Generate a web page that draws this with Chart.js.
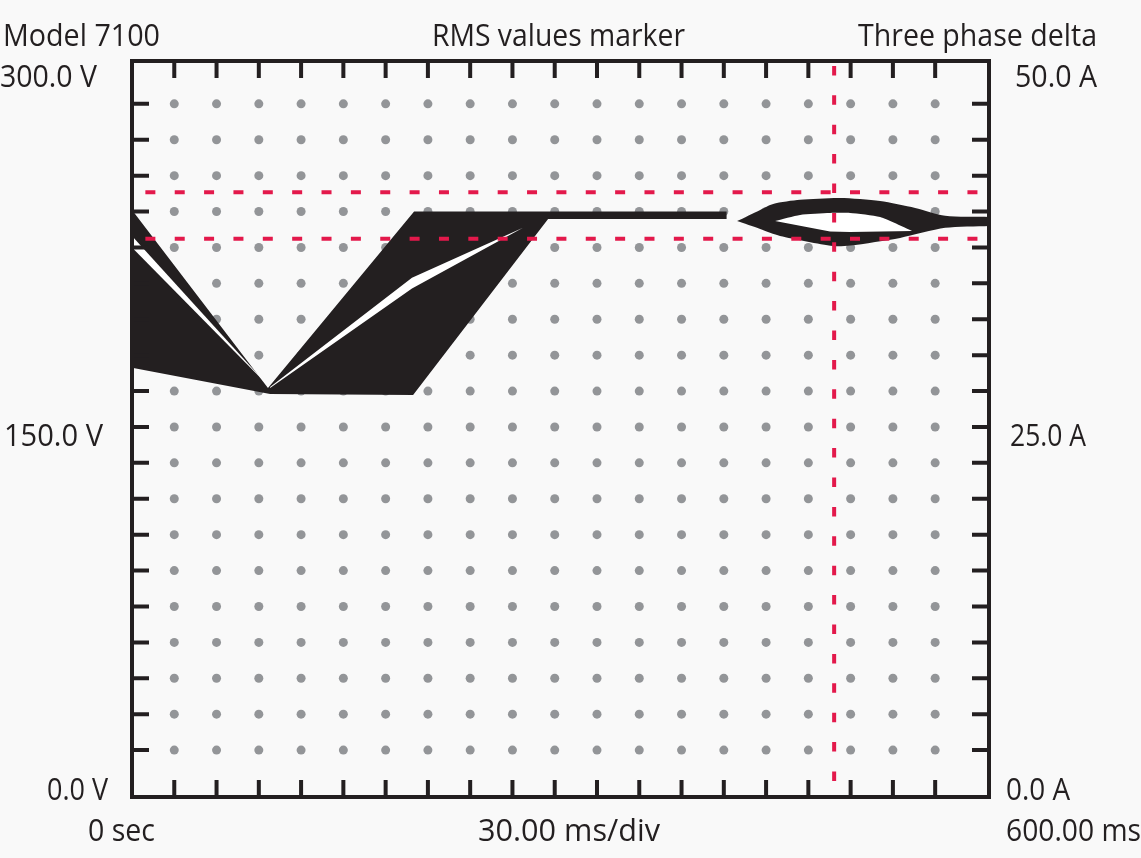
<!DOCTYPE html>
<html>
<head>
<meta charset="utf-8">
<title>Model 7100 - RMS values marker</title>
<script src="https://cdn.jsdelivr.net/npm/chart.js@4.4.1/dist/chart.umd.min.js"></script>
<style>
  html, body { margin: 0; padding: 0; background: #f9f9f9; }
  canvas { display: block; }
</style>
</head>
<body>
<canvas id="scope" width="1141" height="858"></canvas>
<script>
// time in ms, voltage in V

// three phase sag envelope
var envTopT = [0, 96.5, 200.2, 422.1];
var envTopV = [240.7, 166.3, 240.0, 240.0];
var envLowT = [0, 98.0, 199.5, 295.3, 422.1];
var envLowV = [174.7, 163.8, 163.4, 236.9, 236.9];

// gaps between the phases
var gapAT = [0, 96.0];
var gapATopV = [229.8, 167.6];
var gapALowV = [225.0, 167.6];
var gapBT = [98.0, 198.7, 277.5];
var gapBTopV = [166.7, 212.3, 233.2];
var gapBLowV = [166.3, 207.9, 233.2];

// recovery swing near the marker
var loopTopT = [429.4, 445.8, 455.0, 474.1, 502.5, 530.9, 555.8, 577.1, 608.2];
var loopTopV = [236.0, 240.7, 243.2, 244.9, 245.7, 244.4, 241.5, 238.2, 237.7];
var loopLowT = [429.4, 445.8, 459.9, 497.6, 509.6, 545.1, 577.1, 608.2];
var loopLowV = [236.0, 232.7, 229.8, 225.6, 225.8, 229.0, 233.2, 234.0];
var holeTopT = [456.4, 474.1, 495.4, 509.6, 530.9, 553.6];
var holeTopV = [236.1, 238.6, 239.4, 239.4, 237.7, 231.9];
var holeLowT = [456.4, 495.4, 509.6, 553.6];
var holeLowV = [236.1, 231.7, 231.5, 231.9];

// marker cursors
var markerV = [248.1, 228.6];
var markerT = 498.3;

// axis text
var titles = ['Model 7100', 'RMS values marker', 'Three phase delta'];
var voltLabels = ['300.0 V', '150.0 V', '0.0 V'];
var ampLabels = ['50.0 A', '25.0 A', '0.0 A'];
var timeLabels = ['0 sec', '30.00 ms/div', '600.00 ms'];

var INK = '#231f20';
var RED = '#e3194b';
var DOT = '#939598';
var GAP = '#ffffff';

function pts(t, v) {
  return t.map(function (x, i) { return { x: x, y: v[i] }; });
}

function edge(t, v, tension) {
  return { data: pts(t, v), borderWidth: 0, pointRadius: 0, fill: false, tension: tension || 0 };
}

function band(t, v, color, tension) {
  var d = edge(t, v, tension);
  d.fill = '-1';
  d.backgroundColor = color;
  return d;
}

// text: [string, left, baseline, width]
function labelSpots() {
  return [
    [titles[0], 3, 46, 157],
    [titles[1], 432, 46, 253],
    [titles[2], 858, 46, 239],
    [voltLabels[0], 0, 87, 97],
    [voltLabels[1], 4, 446, 99],
    [voltLabels[2], 47, 800, 61],
    [ampLabels[0], 1015, 87, 82],
    [ampLabels[1], 1010, 446, 76],
    [ampLabels[2], 1006, 800, 64],
    [timeLabels[0], 88, 841, 67],
    [timeLabels[1], 478, 841, 182],
    [timeLabels[2], 1006, 841, 135]
  ];
}

var scopeGrid = {
  id: 'scopeGrid',
  beforeDatasetsDraw: function (chart) {
    var ctx = chart.ctx, x = chart.scales.x, y = chart.scales.y;
    ctx.save();
    ctx.fillStyle = DOT;
    for (var i = 1; i < 20; i++) {
      for (var j = 1; j < 20; j++) {
        ctx.beginPath();
        ctx.arc(x.getPixelForValue(30 * i), y.getPixelForValue(15 * j), 4.5, 0, Math.PI * 2);
        ctx.fill();
      }
    }
    ctx.restore();
  },
  afterDatasetsDraw: function (chart) {
    var ctx = chart.ctx, a = chart.chartArea;
    var x = chart.scales.x, y = chart.scales.y, y1 = chart.scales.y1;
    ctx.save();
    ctx.strokeStyle = INK;
    ctx.lineWidth = 4;
    ctx.beginPath();
    for (var i = 1; i < 20; i++) {
      var px = x.getPixelForValue(30 * i);
      ctx.moveTo(px, a.top); ctx.lineTo(px, a.top + 17);
      ctx.moveTo(px, a.bottom); ctx.lineTo(px, a.bottom - 17);
      var py = y.getPixelForValue(15 * i);
      ctx.moveTo(a.left, py); ctx.lineTo(a.left + 17, py);
      var pa = y1.getPixelForValue(2.5 * i);
      ctx.moveTo(a.right, pa); ctx.lineTo(a.right - 17, pa);
    }
    ctx.stroke();
    ctx.strokeRect(a.left, a.top, a.right - a.left, a.bottom - a.top);

    // marker cursors, dashes start from the right / bottom
    ctx.strokeStyle = RED;
    ctx.lineWidth = 4;
    ctx.setLineDash([10, 19.36]);
    markerV.forEach(function (v) {
      var py = y.getPixelForValue(v);
      ctx.beginPath();
      ctx.moveTo(x.getPixelForValue(600), py);
      ctx.lineTo(a.left + 2, py);
      ctx.stroke();
    });
    ctx.setLineDash([9.5, 19.9]);
    var mx = x.getPixelForValue(markerT);
    ctx.beginPath();
    ctx.moveTo(mx, 781);
    ctx.lineTo(mx, a.top + 2);
    ctx.stroke();
    ctx.restore();
  },
  afterDraw: function (chart) {
    var ctx = chart.ctx;
    ctx.save();
    ctx.fillStyle = INK;
    ctx.font = '31px "Open Sans"';
    ctx.textBaseline = 'alphabetic';
    labelSpots().forEach(function (l) {
      var w = ctx.measureText(l[0]).width;
      ctx.save();
      ctx.translate(l[1], l[2]);
      ctx.scale(l[3] / w, 1);
      ctx.fillText(l[0], 0, 0);
      ctx.restore();
    });
    ctx.restore();
  }
};

var scopeCanvas = document.getElementById('scope').getContext('2d');

var scope = new Chart(scopeCanvas, {
  type: 'line',
  data: {
    datasets: [
      edge(gapAT, gapATopV),
      band(gapAT, gapALowV, GAP),
      edge(gapBT, gapBTopV),
      band(gapBT, gapBLowV, GAP),
      edge(holeTopT, holeTopV, 0.2),
      band(holeLowT, holeLowV, GAP),
      edge(envTopT, envTopV),
      band(envLowT, envLowV, INK),
      edge(loopTopT, loopTopV, 0.25),
      band(loopLowT, loopLowV, INK, 0.25)
    ]
  },
  options: {
    responsive: false,
    animation: false,
    devicePixelRatio: 1,
    layout: { padding: { left: 132, right: 152, top: 61, bottom: 61 } },
    plugins: { legend: { display: false }, tooltip: { enabled: false } },
    scales: {
      x: { type: 'linear', min: 0, max: 608.2, display: false },
      y: { min: -4.6, max: 302.9, display: false },
      y1: { min: -4.6 / 6, max: 302.9 / 6, display: false, position: 'right' }
    }
  },
  plugins: [scopeGrid]
});
</script>
</body>
</html>
